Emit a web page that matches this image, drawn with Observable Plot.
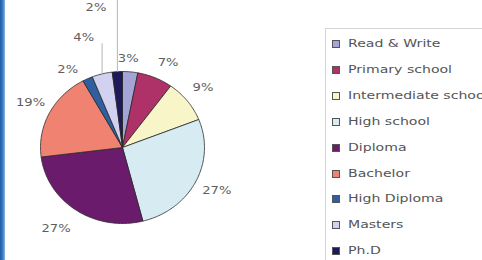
<!DOCTYPE html>
<html>
<head>
<meta charset="utf-8">
<script src="https://cdn.jsdelivr.net/npm/d3@7"></script>
<script src="https://cdn.jsdelivr.net/npm/@observablehq/plot@0.6"></script>
<style>
  html, body { margin: 0; padding: 0; background: #fff; }
  #wrap { position: relative; width: 482px; height: 260px; overflow: hidden; background: #fff; font-family: "DejaVu Sans", sans-serif; }
  #bar { position: absolute; left: 0; top: 0; width: 5px; height: 260px; background: linear-gradient(to right, #1d5aa3, #3f82c6 60%, #8fb8e0); }
  #chart { position: absolute; left: 0; top: 0; }
  #legend { position: absolute; left: 325px; top: 28px; width: 157px; height: 240px; border-left: 1px solid #d4d4d4; border-top: 1px solid #d4d4d4; overflow: hidden; }
  .sw { position: absolute; left: 6px; width: 6px; height: 6px; border: 1px solid #555; }
  .txt { position: absolute; left: 22px; font-size: 11px; line-height: 12px; color: #555; white-space: nowrap; transform: scaleX(1.28); transform-origin: 0 50%; }
</style>
</head>
<body>
<div id="wrap">
  <div id="bar"></div>
  <div id="chart"></div>
  <div id="legend"></div>
</div>
<script>
const categories = ["Read & Write", "Primary school", "Intermediate school", "High school", "Diploma", "Bachelor", "High Diploma", "Masters", "Ph.D"];
const percents = [3, 7, 9, 27, 27, 19, 2, 4, 2];
const labels = ["3%", "7%", "9%", "27%", "27%", "19%", "2%", "4%", "2%"];
const colors = ["#a4a4d6", "#ae3268", "#f8f6c8", "#d6ebf2", "#6a1b6c", "#f08272", "#2f5f9f", "#d2d2f0", "#1e1a5a"];

// layout: label radius (in pie radii) and angle shift (deg); leader labels: label height, line top, dx
const labelLayout = [
  {r: 1.17, da: -2}, {r: 1.25, da: 3}, {r: 1.26, da: -1}, {r: 1.28, da: -1}, {r: 1.34, da: 3},
  {r: 1.27, da: 1}, {r: 1.22, da: -8}, {leader: 1.44, top: 1.37, dx: -8}, {leader: 1.84, top: 1.95, dx: -11}
];

const total = d3.sum(percents);
let cum = 0;
const slices = categories.map((c, i) => {
  const a0 = cum / total * 2 * Math.PI;
  cum += percents[i];
  const a1 = cum / total * 2 * Math.PI;
  return {category: c, a0, a1, mid: (a0 + a1) / 2, label: labels[i], i};
});

// polygon points for each slice (angle clockwise from top)
const pts = [];
for (const s of slices) {
  pts.push({category: s.category, x: 0, y: 0});
  const n = Math.max(2, Math.ceil((s.a1 - s.a0) / (Math.PI / 180)));
  for (let k = 0; k <= n; k++) {
    const a = s.a0 + (s.a1 - s.a0) * k / n;
    pts.push({category: s.category, x: Math.sin(a), y: Math.cos(a)});
  }
  pts.push({category: s.category, x: 0, y: 0});
}

const midLabels = [], endLabels = [], leaderSegs = [];
for (const s of slices) {
  const L = labelLayout[s.i];
  if (L.leader) {
    const ex = Math.sin(s.mid), ey = Math.cos(s.mid);
    leaderSegs.push({x1: ex, y1: ey, x2: ex, y2: L.top});
    endLabels.push({x: ex, y: L.leader, label: s.label, dx: L.dx});
  } else {
    const a = s.mid + L.da * Math.PI / 180;
    midLabels.push({x: L.r * Math.sin(a), y: L.r * Math.cos(a), label: s.label});
  }
}

const cx = 122, cy = 147, rx = 82, ry = 76;
const plot = Plot.plot({
  width: 325, height: 260,
  margin: 0,
  x: {domain: [-1, 1], range: [cx - rx, cx + rx], axis: null},
  y: {domain: [-1, 1], range: [cy + ry, cy - ry], axis: null},
  color: {domain: categories, range: colors},
  style: {background: "transparent", fontFamily: "DejaVu Sans, sans-serif"},
  marks: [
    Plot.line(pts, {x: "x", y: "y", z: "category", fill: "category", stroke: "#2a2a2a", strokeWidth: 0.8, strokeLinejoin: "round"}),
    Plot.link(leaderSegs, {x1: "x1", y1: "y1", x2: "x2", y2: "y2", stroke: "#b4b4b4", strokeWidth: 1}),
    Plot.text(midLabels, {x: "x", y: "y", text: "label", fill: "#5e5e5e", fontSize: 10.5, textAnchor: "middle"}),
    ...endLabels.map(d => Plot.text([d], {x: "x", y: "y", text: "label", fill: "#5e5e5e", fontSize: 10.5, textAnchor: "end", dx: d.dx}))
  ]
});
// widen label glyphs horizontally around their anchors
plot.querySelectorAll("text").forEach(t => {
  const x0 = parseFloat(t.getAttribute("x") || 0), y0 = parseFloat(t.getAttribute("y") || 0);
  const tr = t.getAttribute("transform") || "";
  t.setAttribute("transform", `${tr} translate(${x0},${y0}) scale(1.25,1) translate(${-x0},${-y0})`);
});
document.getElementById("chart").appendChild(plot);

const leg = document.getElementById("legend");
categories.forEach((c, i) => {
  const top = 9 + i * 25.9;
  const sw = document.createElement("div");
  sw.className = "sw";
  sw.style.top = (top + 2) + "px";
  sw.style.background = colors[i];
  leg.appendChild(sw);
  const tx = document.createElement("div");
  tx.className = "txt";
  tx.style.top = top + "px";
  tx.textContent = c;
  leg.appendChild(tx);
});
</script>
</body>
</html>
